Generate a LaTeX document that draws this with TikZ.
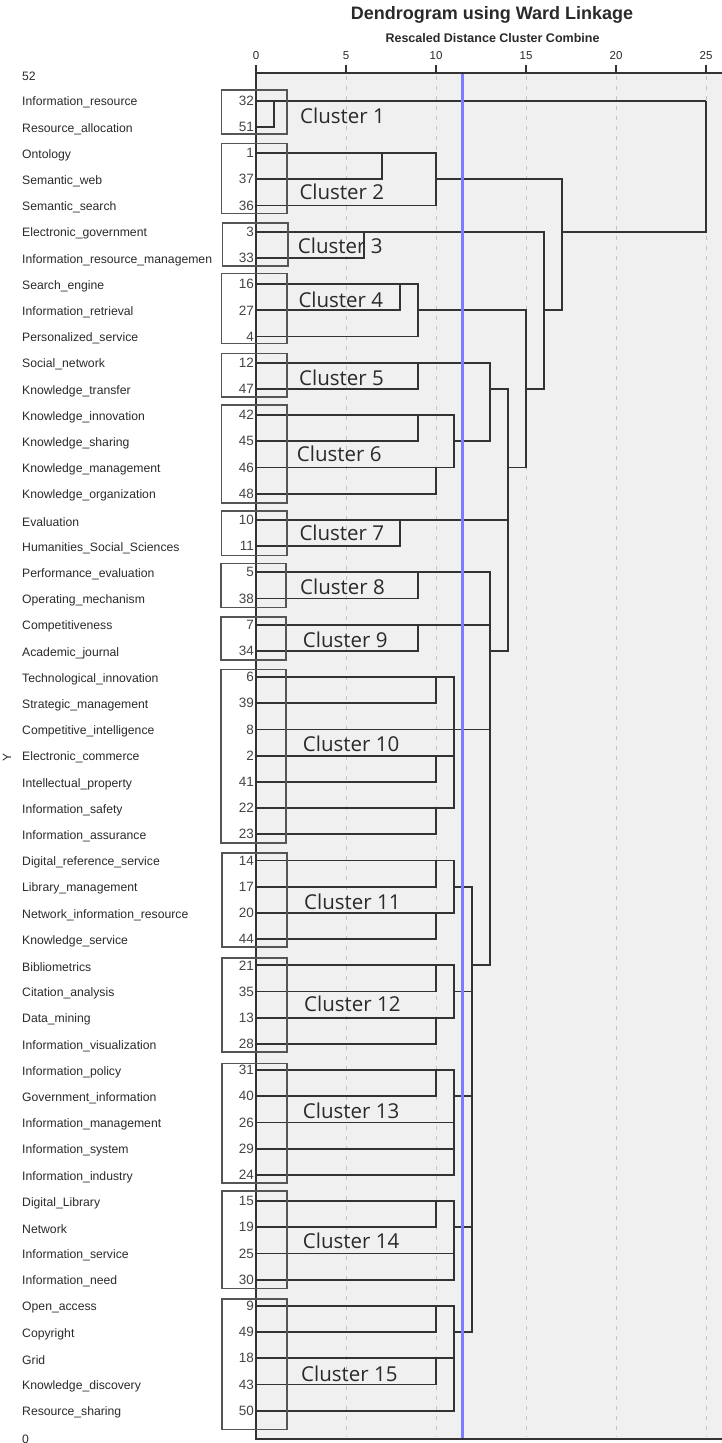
\documentclass[tikz,border=0pt]{standalone}
\usepackage{fontspec}
\setmainfont{Liberation Sans}
\newfontfamily\clusterfont{Open Sans}
\definecolor{bgc}{HTML}{F0F0F0}
\definecolor{linec}{HTML}{333333}
\definecolor{boxc}{HTML}{555555}
\definecolor{gridc}{HTML}{C4C4C4}
\definecolor{bluec}{HTML}{7C7CFF}
\definecolor{txtc}{HTML}{2A2A2A}
\definecolor{numc}{HTML}{444444}
\newcommand\mrg[3]{\coordinate (#1) at ({256+18*#2},{74.5+26.2*#3});}
\begin{document}
\begin{tikzpicture}[x=1pt,y=-1pt,
  dline/.style={draw=linec,line width=1.7pt},
  cbox/.style={draw=boxc,line width=1.6pt},
  gline/.style={draw=gridc,line width=1pt,dash pattern=on 4pt off 6pt},
  axisline/.style={draw=linec,line width=1.5pt},
  leaflab/.style={anchor=west,inner sep=0pt,text=txtc,font=\fontsize{12.2}{14}\selectfont},
  numlab/.style={anchor=east,inner sep=0pt,text=numc,font=\fontsize{13.5}{15}\selectfont},
  ticklab/.style={inner sep=0pt,text=txtc,font=\fontsize{11.5}{13}\selectfont},
  clab/.style={anchor=west,inner sep=0pt,text=txtc,font=\clusterfont\fontsize{20.5}{24}\selectfont}]
\useasboundingbox (0,0) rectangle (722,1443);
% plot background
\fill[bgc] (256,73) rectangle (722,1439);
% grid lines
\foreach \u in {5,10,15,20,25}{\draw[gline] ({256+18*\u},76) -- ({256+18*\u},1437);}
% title
\node[font=\bfseries\fontsize{18}{21}\selectfont,text=txtc,inner sep=0pt] (title) at (492,15) {Dendrogram using Ward Linkage};
\node[font=\bfseries\fontsize{12.5}{15}\selectfont,text=txtc,inner sep=0pt] (subtitle) at (492.5,37.7) {Rescaled Distance Cluster Combine};
% axis
\draw[axisline] (256,73) -- (722,73);
\draw[axisline] (256,73) -- (256,1439) -- (722,1439);
\foreach \u in {0,5,10,15,20,25}{
  \draw[axisline] ({256+18*\u},73) -- ({256+18*\u},65);
  \node[ticklab] (tick\u) at ({256+18*\u},56) {\u};
}
% axis title
\node[rotate=90,inner sep=0pt,text=txtc,font=\fontsize{12}{14}\selectfont] (ytitle) at (7,757) {Y};
% extra rows
\node[leaflab] (lab0) at (22,{74.5+2}) {52};
\node[leaflab] (lab52) at (22,{74.5+26.2*52+2}) {0};
% leaves
\foreach \r/\id/\lab in {
 1/32/Information\_resource, 2/51/Resource\_allocation, 3/1/Ontology, 4/37/Semantic\_web,
 5/36/Semantic\_search, 6/3/Electronic\_government, 7/33/Information\_resource\_managemen,
 8/16/Search\_engine, 9/27/Information\_retrieval, 10/4/Personalized\_service,
 11/12/Social\_network, 12/47/Knowledge\_transfer, 13/42/Knowledge\_innovation,
 14/45/Knowledge\_sharing, 15/46/Knowledge\_management, 16/48/Knowledge\_organization,
 17/10/Evaluation, 18/11/Humanities\_Social\_Sciences, 19/5/Performance\_evaluation,
 20/38/Operating\_mechanism, 21/7/Competitiveness, 22/34/Academic\_journal,
 23/6/Technological\_innovation, 24/39/Strategic\_management, 25/8/Competitive\_intelligence,
 26/2/Electronic\_commerce, 27/41/Intellectual\_property, 28/22/Information\_safety,
 29/23/Information\_assurance, 30/14/Digital\_reference\_service, 31/17/Library\_management,
 32/20/Network\_information\_resource, 33/44/Knowledge\_service, 34/21/Bibliometrics,
 35/35/Citation\_analysis, 36/13/Data\_mining, 37/28/Information\_visualization,
 38/31/Information\_policy, 39/40/Government\_information, 40/26/Information\_management,
 41/29/Information\_system, 42/24/Information\_industry, 43/15/Digital\_Library,
 44/19/Network, 45/25/Information\_service, 46/30/Information\_need,
 47/9/Open\_access, 48/49/Copyright, 49/18/Grid, 50/43/Knowledge\_discovery,
 51/50/Resource\_sharing}{
  \node[leaflab] (lab\r) at (22,{74.5+26.2*\r+2}) {\lab};
  \node[numlab] (n\r) at (254,{74.5+26.2*\r}) {\id};
  \coordinate (L\r) at (256,{74.5+26.2*\r});
}
% merge points
\mrg{A}{1}{1}
\mrg{B}{7}{3}
\mrg{C}{10}{4}
\mrg{D}{6}{6}
\mrg{E}{8}{8}
\mrg{F}{9}{9}
\mrg{J}{9}{11}
\mrg{Lm}{9}{13}
\mrg{N}{10}{15}
\mrg{M}{11}{14}
\mrg{K}{13}{12}
\mrg{Sv}{8}{17}
\mrg{Q}{9}{19}
\mrg{R}{9}{21}
\mrg{Sa}{10}{23}
\mrg{Sb}{10}{26}
\mrg{Sc}{10}{28}
\mrg{T}{11}{25}
\mrg{Wa}{10}{30}
\mrg{Wb}{10}{32}
\mrg{X}{11}{31}
\mrg{Ya}{10}{34}
\mrg{Yb}{10}{36}
\mrg{AA}{11}{35}
\mrg{BB}{10}{38}
\mrg{CC}{11}{39}
\mrg{DA}{10}{43}
\mrg{DD}{11}{44}
\mrg{FA}{10}{47}
\mrg{FB}{10}{49}
\mrg{FF}{11}{48}
\mrg{Z}{12}{34}
\mrg{P}{13}{22}
\mrg{O}{14}{15}
\mrg{G}{15}{12}
\mrg{H}{16}{9}
\mrg{I}{17}{6}
\mrg{Root}{25}{1}
% dendrogram connectors
\foreach \c/\p in {L1/A, L2/A, A/Root, L3/B, L4/B, B/C, L5/C, C/I, L6/D, L7/D, D/H,
  L8/E, L9/E, E/F, L10/F, F/G, L11/J, L12/J, J/K, L13/Lm, L14/Lm, Lm/M, L15/N, L16/N,
  N/M, M/K, K/O, L17/Sv, L18/Sv, Sv/O, L19/Q, L20/Q, Q/P, L21/R, L22/R, R/P,
  L23/Sa, L24/Sa, Sa/T, L26/Sb, L27/Sb, Sb/T, L28/Sc, L29/Sc, Sc/T, T/P, L25/P,
  L30/Wa, L31/Wa, Wa/X, L32/Wb, L33/Wb, Wb/X, X/Z, L34/Ya, L35/Ya, Ya/AA,
  L36/Yb, L37/Yb, Yb/AA, AA/Z, L38/BB, L39/BB, BB/CC, L40/CC, L41/CC, L42/CC, CC/Z,
  L43/DA, L44/DA, DA/DD, L45/DD, L46/DD, DD/Z, L47/FA, L48/FA, FA/FF, L49/FB, L50/FB,
  FB/FF, L51/FF, FF/Z, Z/P, P/O, O/G, G/H, H/I, I/Root}{
  \draw[dline] (\c) -| (\p);
}
% cut line
\draw[draw=bluec,line width=2.2pt] (462.5,74) -- (462.5,1438);
% cluster boxes
\draw[cbox] (221.5,90) rectangle (287,134);
\draw[cbox] (221.5,143.3) rectangle (287,213.3);
\draw[cbox] (222.5,222.7) rectangle (287.7,266);
\draw[cbox] (221.5,273.3) rectangle (287,343.3);
\draw[cbox] (221.5,353.3) rectangle (287,396.7);
\draw[cbox] (221.5,405) rectangle (287,502.7);
\draw[cbox] (221.5,511) rectangle (287,555.3);
\draw[cbox] (220.7,563.3) rectangle (285.7,607.3);
\draw[cbox] (220.7,616.7) rectangle (285.7,660);
\draw[cbox] (220.7,669.3) rectangle (285.7,842.7);
\draw[cbox] (221.7,852.7) rectangle (286.7,946.7);
\draw[cbox] (221.7,957.7) rectangle (286.7,1051.7);
\draw[cbox] (221.7,1063.3) rectangle (286.7,1182.7);
\draw[cbox] (221.7,1191) rectangle (286.7,1288.3);
\draw[cbox] (221.7,1299) rectangle (286.7,1429.3);
% cluster labels
\node[clab] (c1) at (300,116) {Cluster 1};
\node[clab] (c2) at (299.3,191.7) {Cluster 2};
\node[clab] (c3) at (297.7,245.7) {Cluster 3};
\node[clab] (c4) at (298.3,300) {Cluster 4};
\node[clab] (c5) at (299,378.3) {Cluster 5};
\node[clab] (c6) at (296.7,454.3) {Cluster 6};
\node[clab] (c7) at (299.3,533.3) {Cluster 7};
\node[clab] (c8) at (300,587.3) {Cluster 8};
\node[clab] (c9) at (302.7,640) {Cluster 9};
\node[clab] (c10) at (302.7,744.3) {Cluster 10};
\node[clab] (c11) at (304,901.7) {Cluster 11};
\node[clab] (c12) at (304,1003.3) {Cluster 12};
\node[clab] (c13) at (302.7,1111) {Cluster 13};
\node[clab] (c14) at (302.7,1240.7) {Cluster 14};
\node[clab] (c15) at (301,1374) {Cluster 15};
\end{tikzpicture}
\end{document}
